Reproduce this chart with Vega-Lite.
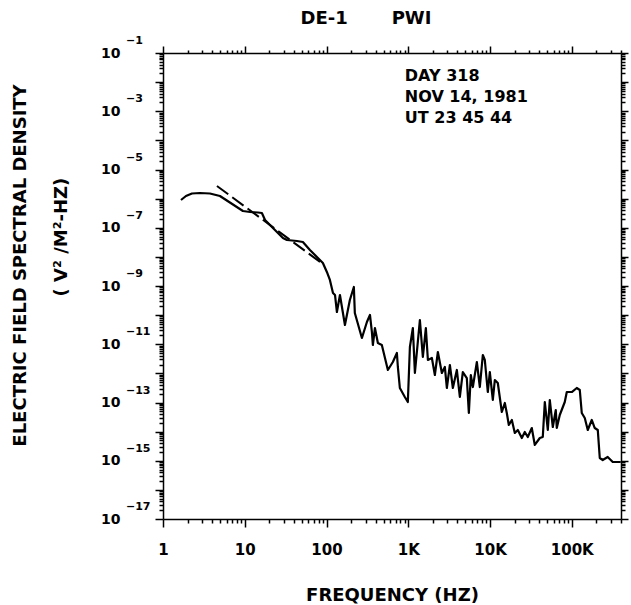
{
  "$schema": "https://vega.github.io/schema/vega-lite/v6.json",
  "width": 458,
  "height": 466,
  "autosize": {"type": "none"},
  "padding": {"left": 163, "top": 53, "right": 10, "bottom": 86},
  "background": "white",
  "config": {"view": {"stroke": null}, "font": "DejaVu Sans"},
  "title": {"text": "DE-1\u00a0\u00a0\u00a0\u00a0\u00a0\u00a0\u00a0PWI", "font": "DejaVu Sans", "fontSize": 18, "fontWeight": "bold", "color": "black", "anchor": "middle", "dx": -26, "offset": 7},
  "datasets": {
    "spec": [
      {"f": 1.66, "p": 8.97e-7}, {"f": 1.91, "p": 1.23e-6}, {"f": 2.26, "p": 1.50e-6}, {"f": 2.83, "p": 1.56e-6},
      {"f": 3.75, "p": 1.50e-6}, {"f": 4.97, "p": 1.23e-6}, {"f": 9.5, "p": 3.76e-7}, {"f": 11.6, "p": 3.48e-7},
      {"f": 14.5, "p": 3.34e-7}, {"f": 16.2, "p": 3.21e-7}, {"f": 17.7, "p": 1.85e-7}, {"f": 23.4, "p": 8.38e-8},
      {"f": 29.3, "p": 4.45e-8}, {"f": 32.8, "p": 3.79e-8}, {"f": 43.5, "p": 3.51e-8}, {"f": 51.4, "p": 3.24e-8},
      {"f": 62.7, "p": 1.72e-8}, {"f": 76.4, "p": 9.91e-9}, {"f": 90.3, "p": 6.17e-9}, {"f": 101, "p": 3.03e-9},
      {"f": 110, "p": 1.61e-9}, {"f": 120, "p": 5.75e-10}, {"f": 127, "p": 4.91e-10}, {"f": 134, "p": 1.28e-10},
      {"f": 146, "p": 4.91e-10}, {"f": 168, "p": 4.58e-11}, {"f": 193, "p": 3.30e-10}, {"f": 216, "p": 9.25e-10},
      {"f": 222, "p": 1.18e-10}, {"f": 271, "p": 1.64e-11}, {"f": 312, "p": 5.81e-11}, {"f": 340, "p": 1.01e-10},
      {"f": 359, "p": 2.64e-11}, {"f": 369, "p": 9.42e-12}, {"f": 391, "p": 3.61e-11}, {"f": 425, "p": 1.10e-11},
      {"f": 475, "p": 9.42e-12}, {"f": 563, "p": 1.31e-12}, {"f": 648, "p": 2.46e-12}, {"f": 726, "p": 5.01e-12},
      {"f": 746, "p": 1.66e-12}, {"f": 789, "p": 3.15e-13}, {"f": 908, "p": 1.55e-13}, {"f": 988, "p": 1.04e-13},
      {"f": 1047, "p": 8.05e-12}, {"f": 1138, "p": 3.61e-11}, {"f": 1205, "p": 1.03e-12}, {"f": 1387, "p": 6.81e-11},
      {"f": 1508, "p": 3.65e-12}, {"f": 1641, "p": 3.61e-11}, {"f": 1738, "p": 2.88e-12}, {"f": 1944, "p": 3.37e-12},
      {"f": 2115, "p": 8.79e-13}, {"f": 2302, "p": 5.42e-12}, {"f": 2576, "p": 1.03e-12}, {"f": 2801, "p": 1.66e-12},
      {"f": 2965, "p": 3.15e-13}, {"f": 3228, "p": 1.94e-12}, {"f": 3511, "p": 3.15e-13}, {"f": 3928, "p": 1.31e-12},
      {"f": 4276, "p": 1.55e-13}, {"f": 4648, "p": 1.11e-12}, {"f": 5201, "p": 6.93e-13}, {"f": 5509, "p": 4.36e-14},
      {"f": 5823, "p": 8.79e-13}, {"f": 6165, "p": 3.40e-13}, {"f": 6900, "p": 2.46e-12}, {"f": 7502, "p": 3.40e-13},
      {"f": 8166, "p": 4.28e-12}, {"f": 8636, "p": 2.88e-12}, {"f": 9393, "p": 2.29e-13}, {"f": 9946, "p": 1.11e-12},
      {"f": 10820, "p": 1.22e-13}, {"f": 11450, "p": 5.93e-13}, {"f": 12450, "p": 4.68e-13}, {"f": 13940, "p": 4.72e-14},
      {"f": 15170, "p": 9.62e-14}, {"f": 16040, "p": 4.36e-14}, {"f": 16980, "p": 1.69e-14}, {"f": 18490, "p": 2.51e-14},
      {"f": 20100, "p": 8.97e-15}, {"f": 21880, "p": 1.14e-14}, {"f": 24490, "p": 6.04e-15}, {"f": 26620, "p": 9.70e-15},
      {"f": 28970, "p": 6.53e-15}, {"f": 32430, "p": 1.33e-14}, {"f": 35300, "p": 3.48e-15}, {"f": 40640, "p": 6.04e-15},
      {"f": 44190, "p": 6.53e-15}, {"f": 46790, "p": 1.04e-13}, {"f": 50900, "p": 1.14e-14}, {"f": 53830, "p": 1.22e-13},
      {"f": 58610, "p": 1.44e-14}, {"f": 63720, "p": 5.52e-14}, {"f": 65560, "p": 1.33e-14}, {"f": 71320, "p": 3.72e-14},
      {"f": 82080, "p": 1.04e-13}, {"f": 86890, "p": 2.29e-13}, {"f": 100000, "p": 2.29e-13}, {"f": 115100, "p": 3.15e-13},
      {"f": 125300, "p": 2.69e-13}, {"f": 132500, "p": 4.36e-14}, {"f": 144200, "p": 2.94e-14}, {"f": 156900, "p": 1.14e-14},
      {"f": 175500, "p": 2.51e-14}, {"f": 191000, "p": 1.33e-14}, {"f": 208000, "p": 1.14e-14}, {"f": 220000, "p": 1.24e-15},
      {"f": 239000, "p": 1.06e-15}, {"f": 275000, "p": 1.35e-15}, {"f": 317000, "p": 9.06e-16}, {"f": 397000, "p": 9.06e-16}
    ],
    "fit": [{"f": 4.57, "p": 2.71e-6}, {"f": 90.3, "p": 5.69e-9}],
    "exps": [
      {"v": 0.1, "e": "−1"}, {"v": 0.001, "e": "−3"}, {"v": 1e-5, "e": "−5"}, {"v": 1e-7, "e": "−7"},
      {"v": 1e-9, "e": "−9"}, {"v": 1e-11, "e": "−11"}, {"v": 1e-13, "e": "−13"}, {"v": 1e-15, "e": "−15"}, {"v": 1e-17, "e": "−17"}
    ],
    "note": [{"t": "DAY 318\nNOV 14, 1981\nUT 23 45 44"}],
    "unit": [{"t": "( V² /M²-HZ)"}]
  },
  "layer": [
    {
      "data": {"name": "spec"},
      "mark": {"type": "line", "color": "black", "strokeWidth": 2.2, "strokeJoin": "round"},
      "encoding": {
        "x": {
          "field": "f", "type": "quantitative",
          "scale": {"type": "log", "domain": [1, 400000], "nice": false},
          "axis": {
            "orient": "bottom",
            "values": [1,2,3,4,5,6,7,8,9,10,20,30,40,50,60,70,80,90,100,200,300,400,500,600,700,800,900,1000,2000,3000,4000,5000,6000,7000,8000,9000,10000,20000,30000,40000,50000,60000,70000,80000,90000,100000,200000,300000,400000],
            "tickSize": {"condition": {"test": "abs(log(datum.value)/LN10 - round(log(datum.value)/LN10)) < 0.01", "value": 8}, "value": 4},
            "tickWidth": 1.5, "tickColor": "black", "domainColor": "black", "domainWidth": 1.5, "grid": false,
            "labelExpr": "datum.value == 1 ? '1' : datum.value == 10 ? '10' : datum.value == 100 ? '100' : datum.value == 1000 ? '1K' : datum.value == 10000 ? '10K' : datum.value == 100000 ? '100K' : ''",
            "labelFont": "DejaVu Sans", "labelFontWeight": "bold", "labelFontSize": 15, "labelColor": "black",
            "labelPadding": 15, "labelFlush": false, "labelOverlap": false,
            "title": "FREQUENCY (HZ)", "titleFont": "DejaVu Sans", "titleFontSize": 18, "titleFontWeight": "bold", "titleColor": "black",
            "titleY": 76, "titleBaseline": "middle"
          }
        },
        "y": {
          "field": "p", "type": "quantitative",
          "scale": {"type": "log", "domain": [1e-17, 0.1], "nice": false},
          "axis": {
            "orient": "left",
            "values": [1e-17,2e-17,3e-17,4e-17,5e-17,6e-17,7e-17,8e-17,9e-17,1e-16,2e-16,3e-16,4e-16,5e-16,6e-16,7e-16,8e-16,9e-16,1e-15,2e-15,3e-15,4e-15,5e-15,6e-15,7e-15,8e-15,9e-15,1e-14,2e-14,3e-14,4e-14,5e-14,6e-14,7e-14,8e-14,9e-14,1e-13,2e-13,3e-13,4e-13,5e-13,6e-13,7e-13,8e-13,9e-13,1e-12,2e-12,3e-12,4e-12,5e-12,6e-12,7e-12,8e-12,9e-12,1e-11,2e-11,3e-11,4e-11,5e-11,6e-11,7e-11,8e-11,9e-11,1e-10,2e-10,3e-10,4e-10,5e-10,6e-10,7e-10,8e-10,9e-10,1e-9,2e-9,3e-9,4e-9,5e-9,6e-9,7e-9,8e-9,9e-9,1e-8,2e-8,3e-8,4e-8,5e-8,6e-8,7e-8,8e-8,9e-8,1e-7,2e-7,3e-7,4e-7,5e-7,6e-7,7e-7,8e-7,9e-7,1e-6,2e-6,3e-6,4e-6,5e-6,6e-6,7e-6,8e-6,9e-6,1e-5,2e-5,3e-5,4e-5,5e-5,6e-5,7e-5,8e-5,9e-5,1e-4,2e-4,3e-4,4e-4,5e-4,6e-4,7e-4,8e-4,9e-4,0.001,0.002,0.003,0.004,0.005,0.006,0.007,0.008,0.009,0.01,0.02,0.03,0.04,0.05,0.06,0.07,0.08,0.09,0.1],
            "tickSize": {"condition": {"test": "abs(log(datum.value)/LN10 - round(log(datum.value)/LN10)) < 0.01", "value": 8}, "value": 4},
            "tickWidth": 1.5, "tickColor": "black", "domainColor": "black", "domainWidth": 1.5, "grid": false,
            "labelExpr": "abs(log(datum.value)/LN10 - round(log(datum.value)/LN10)) < 0.01 && round(log(datum.value)/LN10) % 2 != 0 ? '10' : ''",
            "labelFont": "DejaVu Sans", "labelFontWeight": "bold", "labelFontSize": 14, "labelColor": "black",
            "labelPadding": 35, "labelBaseline": "middle", "labelOverlap": false, "labelFlush": false,
            "title": "ELECTRIC FIELD SPECTRAL DENSITY", "titleFont": "DejaVu Sans", "titleFontSize": 18, "titleFontWeight": "bold", "titleColor": "black",
            "titleX": -143, "titleY": 212, "titleBaseline": "middle", "titleAngle": 270
          }
        }
      }
    },
    {
      "data": {"name": "fit"},
      "mark": {"type": "line", "color": "black", "strokeWidth": 2, "strokeDash": [14, 5]},
      "encoding": {
        "x": {
          "field": "f", "type": "quantitative",
          "axis": {
            "orient": "top",
            "values": [1,2,3,4,5,6,7,8,9,10,20,30,40,50,60,70,80,90,100,200,300,400,500,600,700,800,900,1000,2000,3000,4000,5000,6000,7000,8000,9000,10000,20000,30000,40000,50000,60000,70000,80000,90000,100000,200000,300000,400000],
            "tickSize": {"condition": {"test": "abs(log(datum.value)/LN10 - round(log(datum.value)/LN10)) < 0.01", "value": 7}, "value": 3},
            "tickWidth": 1.5, "tickColor": "black", "domainColor": "black", "domainWidth": 1.5, "grid": false,
            "labels": false, "title": null
          }
        },
        "y": {
          "field": "p", "type": "quantitative",
          "axis": {
            "orient": "right",
            "values": [1e-17,2e-17,3e-17,4e-17,5e-17,6e-17,7e-17,8e-17,9e-17,1e-16,2e-16,3e-16,4e-16,5e-16,6e-16,7e-16,8e-16,9e-16,1e-15,2e-15,3e-15,4e-15,5e-15,6e-15,7e-15,8e-15,9e-15,1e-14,2e-14,3e-14,4e-14,5e-14,6e-14,7e-14,8e-14,9e-14,1e-13,2e-13,3e-13,4e-13,5e-13,6e-13,7e-13,8e-13,9e-13,1e-12,2e-12,3e-12,4e-12,5e-12,6e-12,7e-12,8e-12,9e-12,1e-11,2e-11,3e-11,4e-11,5e-11,6e-11,7e-11,8e-11,9e-11,1e-10,2e-10,3e-10,4e-10,5e-10,6e-10,7e-10,8e-10,9e-10,1e-9,2e-9,3e-9,4e-9,5e-9,6e-9,7e-9,8e-9,9e-9,1e-8,2e-8,3e-8,4e-8,5e-8,6e-8,7e-8,8e-8,9e-8,1e-7,2e-7,3e-7,4e-7,5e-7,6e-7,7e-7,8e-7,9e-7,1e-6,2e-6,3e-6,4e-6,5e-6,6e-6,7e-6,8e-6,9e-6,1e-5,2e-5,3e-5,4e-5,5e-5,6e-5,7e-5,8e-5,9e-5,1e-4,2e-4,3e-4,4e-4,5e-4,6e-4,7e-4,8e-4,9e-4,0.001,0.002,0.003,0.004,0.005,0.006,0.007,0.008,0.009,0.01,0.02,0.03,0.04,0.05,0.06,0.07,0.08,0.09,0.1],
            "tickSize": {"condition": {"test": "abs(log(datum.value)/LN10 - round(log(datum.value)/LN10)) < 0.01", "value": 7}, "value": 4},
            "tickWidth": 1.5, "tickColor": "black", "domainColor": "black", "domainWidth": 1.5, "grid": false,
            "labels": false, "title": null
          }
        }
      }
    },
    {
      "data": {"name": "exps"},
      "mark": {"type": "text", "align": "left", "baseline": "middle", "dx": -37, "dy": -12, "font": "DejaVu Sans", "fontSize": 11, "fontWeight": "bold", "color": "black"},
      "encoding": {
        "x": {"datum": 1, "type": "quantitative", "axis": null},
        "y": {"field": "v", "type": "quantitative", "axis": null},
        "text": {"field": "e"}
      }
    },
    {
      "data": {"name": "note"},
      "mark": {"type": "text", "align": "left", "baseline": "top", "lineBreak": "\n", "lineHeight": 21, "font": "DejaVu Sans", "fontSize": 16, "fontWeight": "bold", "color": "black"},
      "encoding": {
        "x": {"datum": 908, "type": "quantitative", "axis": null},
        "y": {"datum": 0.0305, "type": "quantitative", "axis": null},
        "text": {"field": "t"}
      }
    },
    {
      "data": {"name": "unit"},
      "mark": {"type": "text", "align": "center", "baseline": "middle", "angle": 270, "dy": -101, "font": "DejaVu Sans", "fontSize": 18, "fontWeight": "bold", "color": "black"},
      "encoding": {
        "x": {"datum": 1, "type": "quantitative", "axis": null},
        "y": {"datum": 4.8e-8, "type": "quantitative", "axis": null},
        "text": {"field": "t"}
      }
    }
  ],
  "resolve": {"axis": {"x": "independent", "y": "independent"}}
}
